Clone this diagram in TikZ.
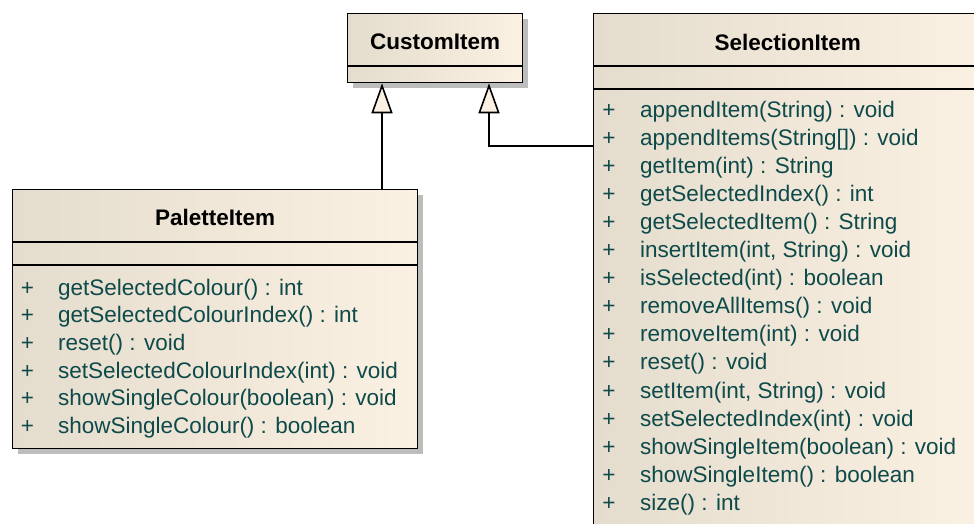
\documentclass[tikz,border=0pt]{standalone}
\usepackage{fontspec}
\setmainfont{Liberation Sans}
\usetikzlibrary{arrows.meta,shadows}
\definecolor{fillL}{HTML}{E4DCCD}
\definecolor{fillR}{HTML}{FBF1E3}
\definecolor{txt}{HTML}{0E4A4A}
\definecolor{shad}{HTML}{BDBDBD}
\tikzset{
  classbox/.style={draw=black, line width=1.3pt, left color=fillL, right color=fillR,
    anchor=north west, inner sep=0pt,
    drop shadow={shadow xshift=5pt, shadow yshift=-5pt, fill=shad, opacity=1}},
  divider/.style={line width=2pt, black},
  hdr/.style={font=\fontsize{22.5}{26}\selectfont\bfseries, text=black, inner sep=0pt},
  member/.style={font=\fontsize{22.5}{26}\selectfont, text=txt, inner sep=0pt, anchor=base west},
  plus/.style={font=\fontsize{22.5}{26}\selectfont, text=txt, inner sep=0pt, anchor=base},
  inh/.style={line width=1.6pt, -{Triangle[open, length=30pt, width=21pt, fill=fillR]}}
}
\begin{document}
\begin{tikzpicture}[x=1pt,y=-1pt]
\useasboundingbox (0,0) rectangle (974,523);
\clip (0,0) rectangle (974,523);
% boxes
\node[classbox, minimum width=175pt, minimum height=69pt] (custom) at (347,13) {};
\node[classbox, minimum width=388pt, minimum height=560pt] (sel) at (593,13) {};
\node[classbox, minimum width=405pt, minimum height=259pt] (pal) at (12,189) {};
% dividers
\draw[divider] (custom.west |- 0,66) -- (custom.east |- 0,66);
\draw[divider] (sel.west |- 0,66) -- (sel.east |- 0,66);
\draw[divider] (sel.west |- 0,89) -- (sel.east |- 0,89);
\draw[divider] (pal.west |- 0,242) -- (pal.east |- 0,242);
\draw[divider] (pal.west |- 0,265) -- (pal.east |- 0,265);
% headers
\node[hdr] (customname) at (custom.north |- 0,42) {CustomItem};
\node[hdr] (selname) at (sel.north |- 0,42) {SelectionItem};
\node[hdr] (palname) at (pal.north |- 0,217) {PaletteItem};
% PaletteItem members
\foreach \t [count=\i from 0] in {getSelectedColour() : int, getSelectedColourIndex() : int, reset() : void, setSelectedColourIndex(int) : void, showSingleColour(boolean) : void, showSingleColour() : boolean}{
  \node[plus] (pp\i) at (27.5, 295+27.7*\i) {+};
  \node[member] (pm\i) at (58, 295+27.7*\i) {\t};
}
% SelectionItem members
\foreach \t [count=\i from 0] in {appendItem(String) : void, appendItems(String[]) : void, getItem(int) : String, getSelectedIndex() : int, getSelectedItem() : String, {insertItem(int, String) : void}, isSelected(int) : boolean, removeAllItems() : void, removeItem(int) : void, reset() : void, {setItem(int, String) : void}, setSelectedIndex(int) : void, showSingleItem(boolean) : void, showSingleItem() : boolean, size() : int}{
  \node[plus] (sp\i) at (609, 117+28.1*\i) {+};
  \node[member] (sm\i) at (640, 117+28.1*\i) {\t};
}
% connectors
\coordinate (c1) at (382,0);
\coordinate (c2) at (489,146);
\draw[inh] (pal.north -| c1) -- (custom.south -| c1);
\draw[inh] (sel.west |- c2) -| (custom.south -| c2);
\end{tikzpicture}
\end{document}
